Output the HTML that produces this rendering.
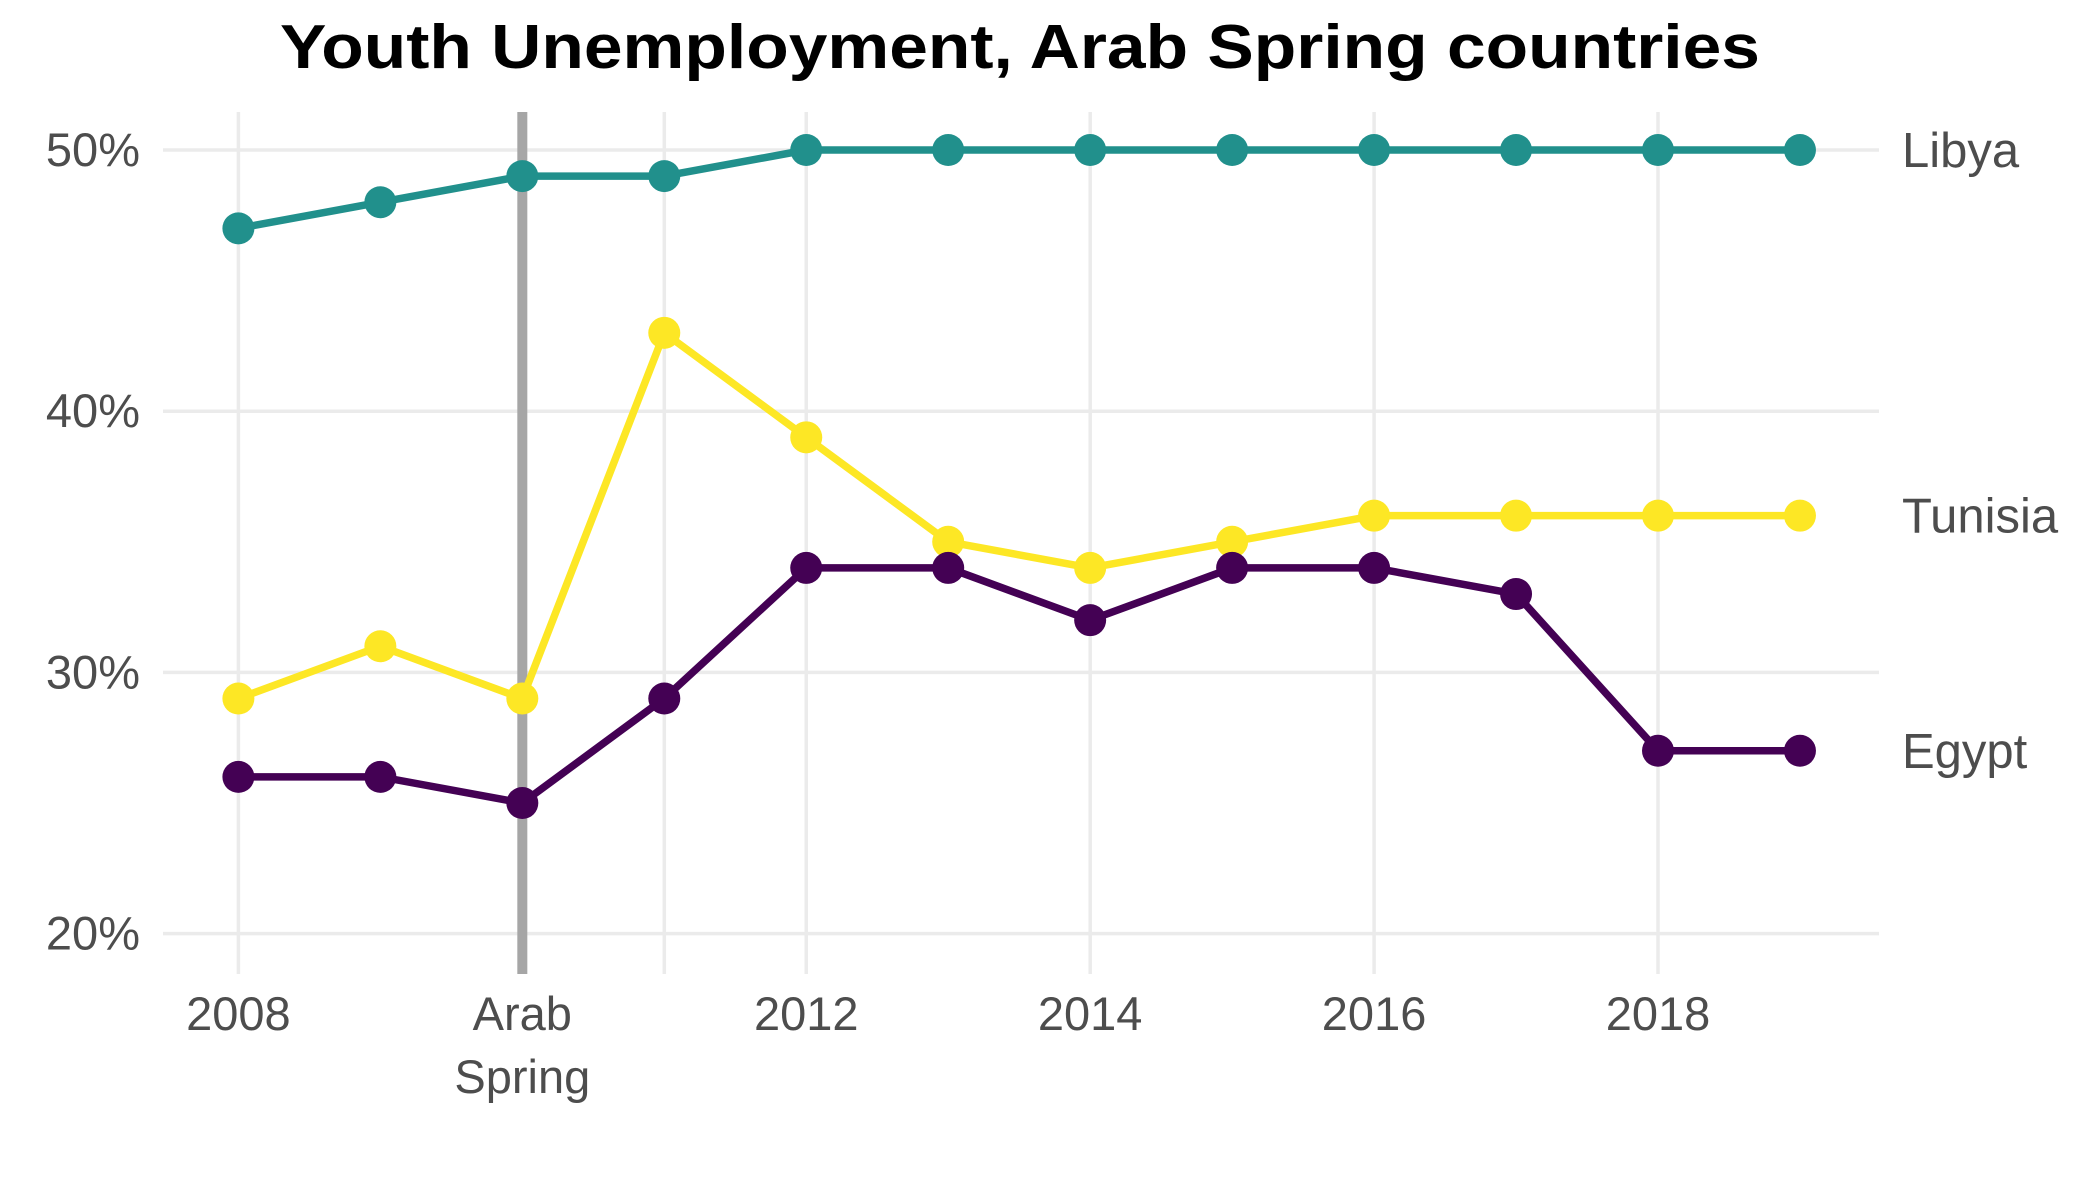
<!DOCTYPE html>
<html><head><meta charset="utf-8"><style>
body{margin:0;background:#fff;}
svg{display:block;font-family:"Liberation Sans",sans-serif;}
</style></head><body>
<svg id="chart" width="2100" height="1200" viewBox="0 0 2100 1200" xmlns="http://www.w3.org/2000/svg">
<text x="1020" y="68" text-anchor="middle" font-size="62" font-weight="bold" fill="#000" textLength="1480" lengthAdjust="spacingAndGlyphs">Youth Unemployment, Arab Spring countries</text>
<g id="grid"></g><g id="marks"></g><g id="labels"></g>
</svg>
<script>
const years=[2008,2009,2010,2011,2012,2013,2014,2015,2016,2017,2018,2019];
const libya=[47,48,49,49,50,50,50,50,50,50,50,50];
const tunisia=[29,31,29,43,39,35,34,35,36,36,36,36];
const egypt=[26,26,25,29,34,34,32,34,34,33,27,27];
const yTicks=[20,30,40,50];
const yTickLabels=["20%","30%","40%","50%"];
const xTicks=[2008,2010,2012,2014,2016,2018];
const xTickLabels=["2008","Arab\nSpring","2012","2014","2016","2018"];
const ns="http://www.w3.org/2000/svg";
const x=v=>238.4+(v-2008)*141.96;
const y=v=>150+(50-v)*26.12;
const L=163,R=1879,T=112,B=974;
function mk(t,a,p){const e=document.createElementNS(ns,t);for(const k in a)e.setAttribute(k,a[k]);p.appendChild(e);return e;}
const grid=document.getElementById('grid'),marks=document.getElementById('marks'),labels=document.getElementById('labels');
yTicks.forEach((v,i)=>{
 const g=mk('line',{x1:L,x2:R,y1:y(v),y2:y(v),stroke:'#EBEBEB','stroke-width':3.5},grid);
 
 
 const t=mk('text',{x:140,y:y(v)+16,'text-anchor':'end','font-size':47,fill:'#4D4D4D'},labels);
 t.textContent=yTickLabels[i];
 
 
});
[2008,2011,2012,2014,2016,2018].forEach(v=>{
 const g=mk('line',{x1:x(v),x2:x(v),y1:T,y2:B,stroke:'#EBEBEB','stroke-width':3.5},grid);
 
 
});
xTicks.forEach((v,i)=>{
 const lines=xTickLabels[i].split('\n');
 lines.forEach((s,j)=>{
  const t=mk('text',{x:x(v),y:1030+j*63,'text-anchor':'middle','font-size':47,fill:'#4D4D4D'},labels);
  t.textContent=s;
  
  
 });
});
const vl=mk('line',{x1:x(2010),x2:x(2010),y1:T,y2:B,stroke:'#A6A6A6','stroke-width':10},marks);


const series=[["libya",libya,"#21908C","Libya"],["tunisia",tunisia,"#FDE725","Tunisia"],["egypt",egypt,"#440154","Egypt"]];
series.forEach(([id,vals,col,name])=>{
 const pl=mk('polyline',{points:vals.map((v,i)=>x(years[i])+','+y(v)).join(' '),fill:'none',stroke:col,'stroke-width':7.5,'stroke-linejoin':'round'},marks);
 
 
 vals.forEach((v,i)=>{
  const c=mk('circle',{cx:x(years[i]),cy:y(v),r:16,fill:col},marks);
  
  
 });
 const t=mk('text',{x:1902,y:y(vals[vals.length-1])+17,'font-size':49,fill:'#4D4D4D'},labels);
 t.textContent=name;
 
 
});
</script>
</body></html>
